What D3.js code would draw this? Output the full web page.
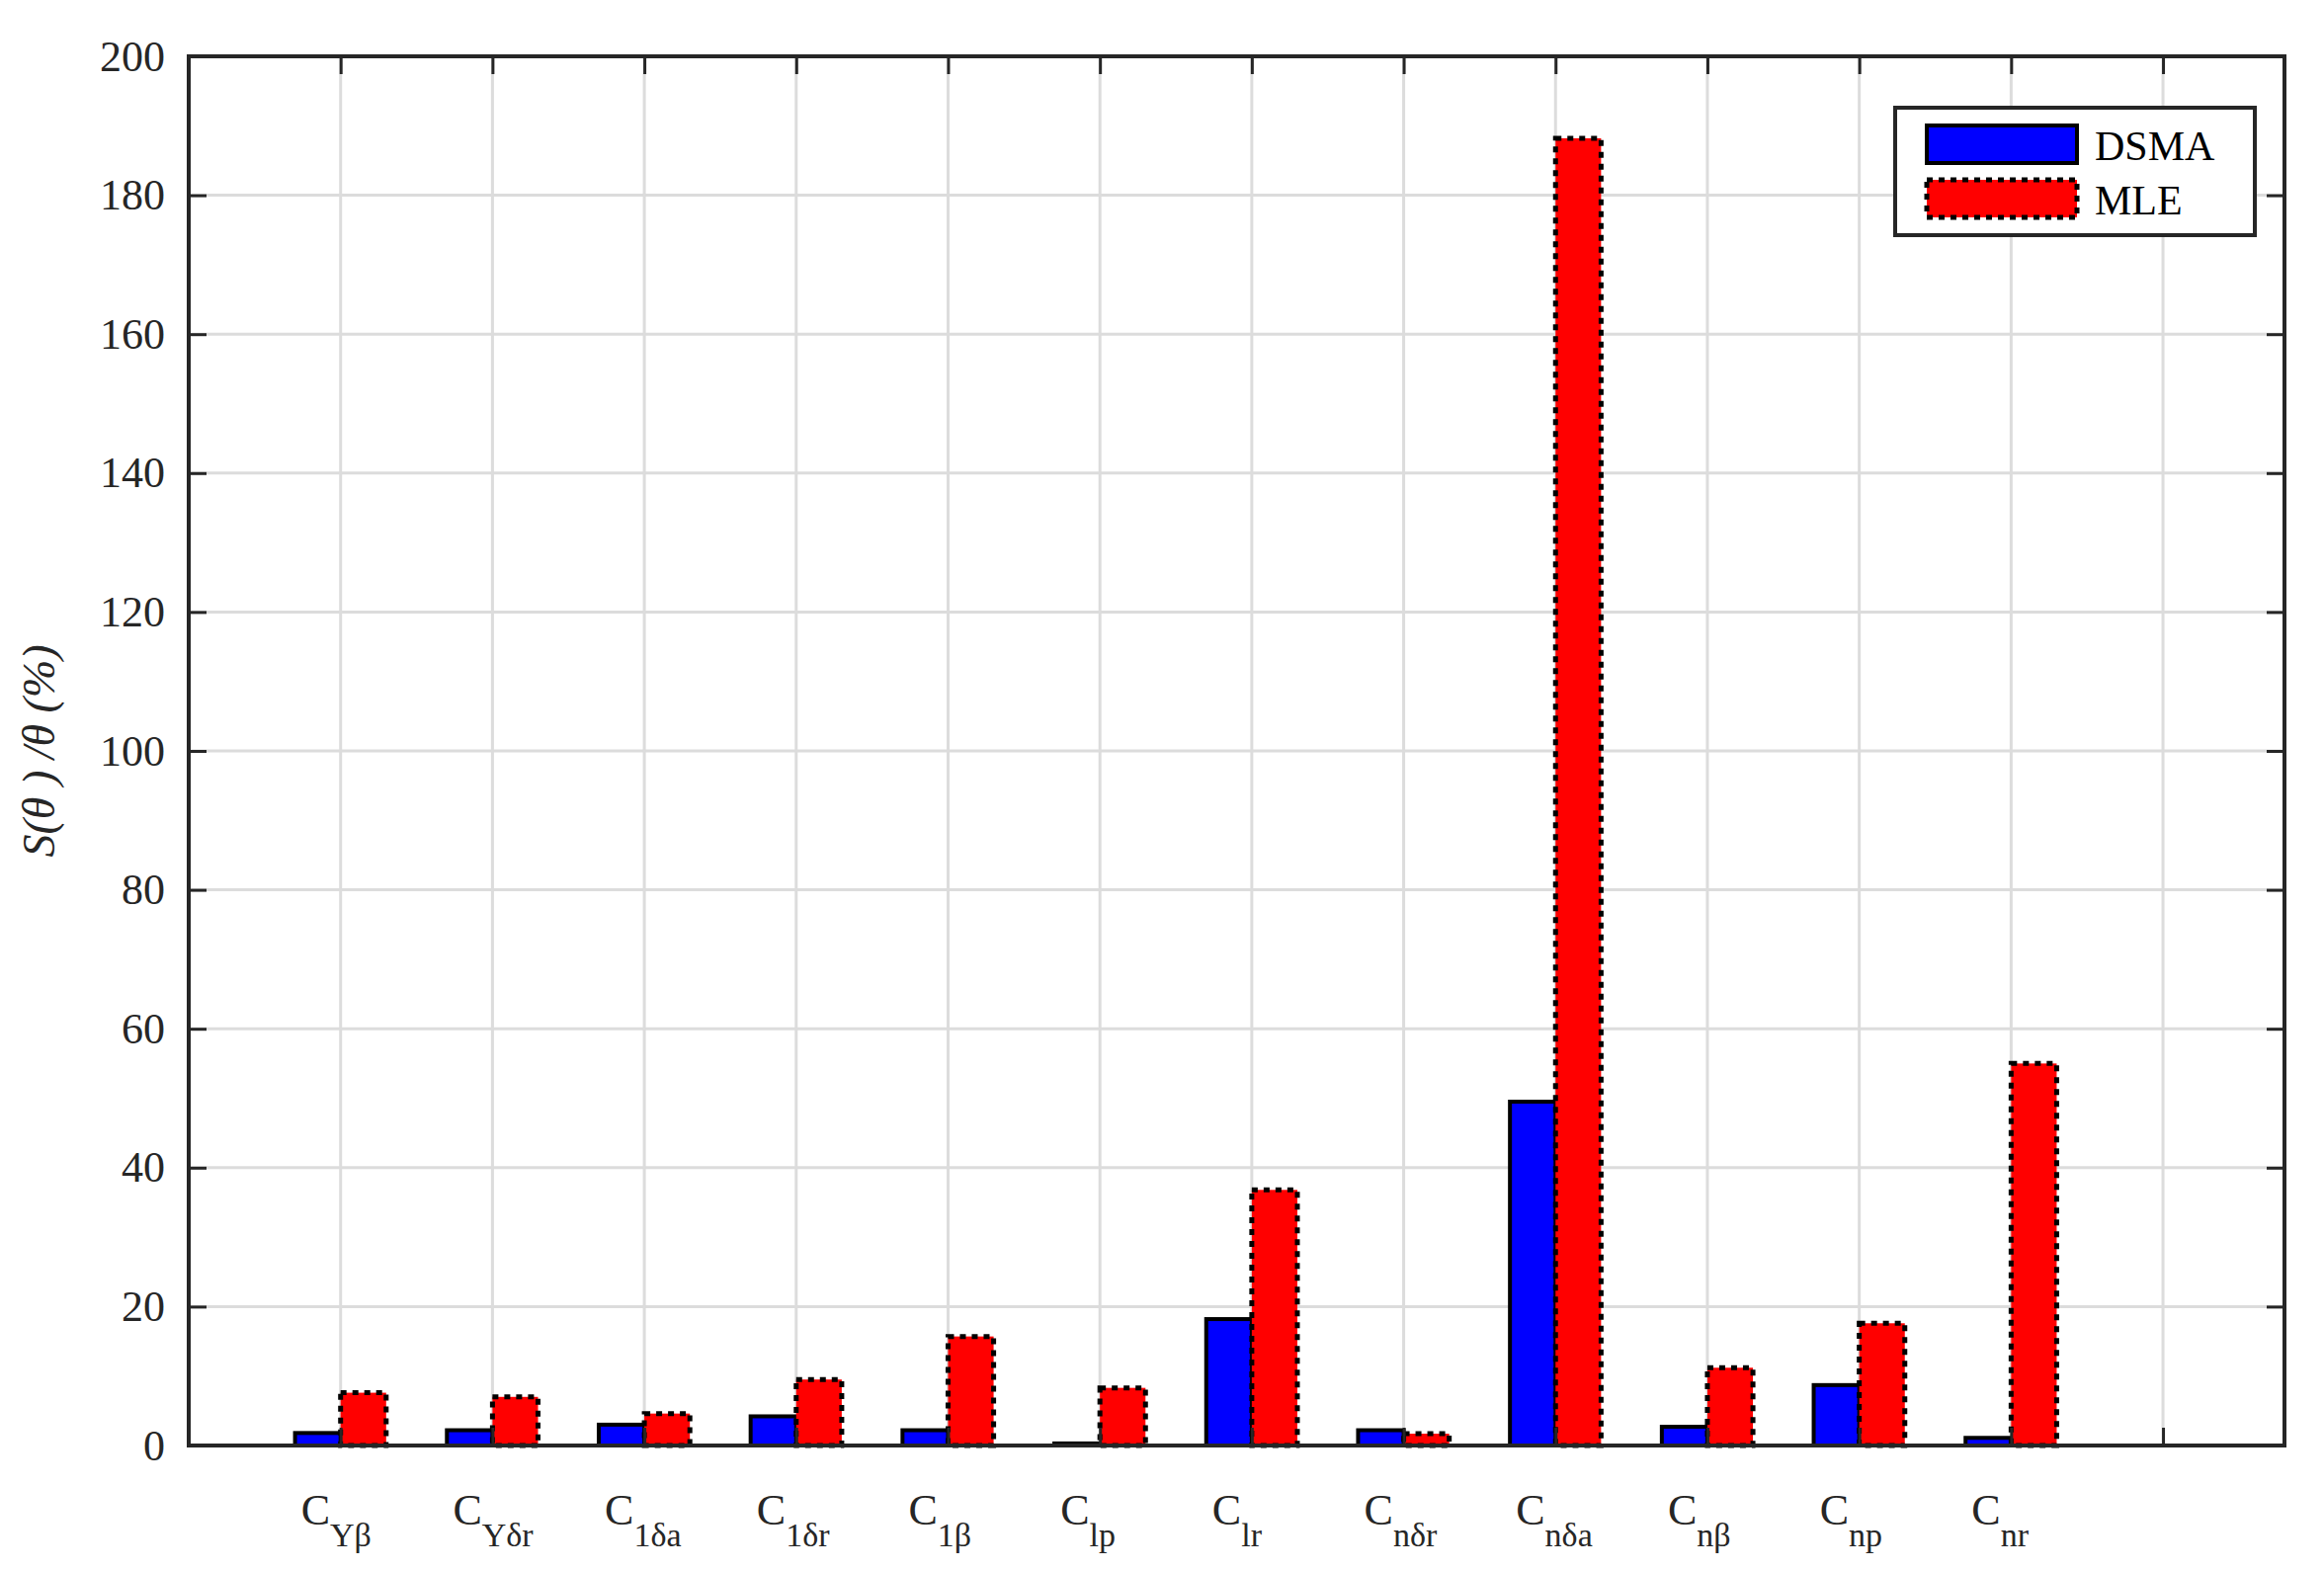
<!DOCTYPE html><html><head><script src="https://cdn.jsdelivr.net/npm/d3@7"></script>
<style>body{margin:0;background:#fff}text{font-family:"Liberation Serif","Times New Roman",serif}</style></head><body><svg id="c" width="2352" height="1589"></svg><script>
const subs=["Yβ","Yδr","1δa","1δr","1β","lp","lr","nδr","nδa","nβ","np","nr"];
const dsma=[1.8,2.2,3.0,4.2,2.2,0.3,18.2,2.2,49.5,2.7,8.7,1.1];
const mle=[7.6,7.0,4.6,9.5,15.7,8.3,36.8,1.7,188.2,11.2,17.6,55.0];
const yTicks=[0,20,40,60,80,100,120,140,160,180,200];
const L=191,R=2312,T=57,B=1463;
const svg=d3.select("#c");
const x=d3.scaleLinear().domain([0,13.8]).range([L,R]);
const y=d3.scaleLinear().domain([0,200]).range([B,T]);
const g=svg.append("g");
// grid
g.selectAll(".gy").data(yTicks).join("line").attr("x1",L).attr("x2",R).attr("y1",d=>y(d)).attr("y2",d=>y(d)).attr("stroke","#dcdcdc").attr("stroke-width",3);
g.selectAll(".gx").data(d3.range(1,14)).join("line").attr("y1",T).attr("y2",B).attr("x1",d=>x(d)).attr("x2",d=>x(d)).attr("stroke","#dcdcdc").attr("stroke-width",3);
const bw=x(1)-x(0);const w=bw*0.3;
g.selectAll(".b").data(dsma).join("rect").attr("x",(d,i)=>x(i+1)-w).attr("width",w).attr("y",d=>y(d)).attr("height",d=>B-y(d)).attr("fill","#0000ff").attr("stroke","#000").attr("stroke-width",4);
g.selectAll(".r").data(mle).join("rect").attr("x",(d,i)=>x(i+1)).attr("width",w).attr("y",d=>y(d)).attr("height",d=>B-y(d)).attr("fill","#ff0000").attr("stroke","#000").attr("stroke-width",5).attr("stroke-dasharray","6,6");
// axes box
const ax=svg.append("g");
ax.append("g").attr("transform",`translate(${L},0)`).call(d3.axisLeft(y).tickValues(yTicks).tickSize(-18).tickPadding(24)).call(a=>{a.select(".domain").remove();});
ax.append("g").attr("transform",`translate(${R},0)`).call(d3.axisRight(y).tickValues(yTicks).tickSize(-18).tickFormat("")).call(a=>a.select(".domain").remove());
ax.append("g").attr("transform",`translate(0,${B})`).call(d3.axisBottom(x).tickValues(d3.range(1,14)).tickSize(-18).tickFormat("")).call(a=>a.select(".domain").remove());
ax.append("g").attr("transform",`translate(0,${T})`).call(d3.axisTop(x).tickValues(d3.range(1,14)).tickSize(-18).tickFormat("")).call(a=>a.select(".domain").remove());
ax.selectAll(".tick line").attr("stroke","#262626").attr("stroke-width",3);
ax.selectAll(".tick text").attr("font-size",44).attr("fill","#262626").attr("font-family","Liberation Serif");
svg.append("rect").attr("x",L).attr("y",T).attr("width",R-L).attr("height",B-T).attr("fill","none").attr("stroke","#262626").attr("stroke-width",4);
// x labels
subs.forEach((s,i)=>{const t=svg.append("text").attr("x",x(i+1)-40).attr("y",B+80).attr("font-size",44).attr("fill","#262626");
t.append("tspan").text("C");t.append("tspan").attr("dy",22).attr("font-size",34).text(s);});
// y label
svg.append("text").attr("transform",`translate(55,${(T+B)/2}) rotate(-90)`).attr("text-anchor","middle").attr("font-size",46).attr("fill","#262626").attr("font-style","italic").text("S(θ ) /θ (%)");
// legend
const lg=svg.append("g");
lg.append("rect").attr("x",1918).attr("y",109).attr("width",364).attr("height",129).attr("fill","#fff").attr("stroke","#262626").attr("stroke-width",4);
lg.append("rect").attr("x",1950).attr("y",127).attr("width",152).attr("height",38).attr("fill","#0000ff").attr("stroke","#000").attr("stroke-width",4);
lg.append("rect").attr("x",1950).attr("y",182).attr("width",152).attr("height",38).attr("fill","#ff0000").attr("stroke","#000").attr("stroke-width",5).attr("stroke-dasharray","6,6");
lg.append("text").attr("x",2120).attr("y",162).attr("font-size",42).text("DSMA");
lg.append("text").attr("x",2120).attr("y",217).attr("font-size",42).text("MLE");
</script></body></html>
